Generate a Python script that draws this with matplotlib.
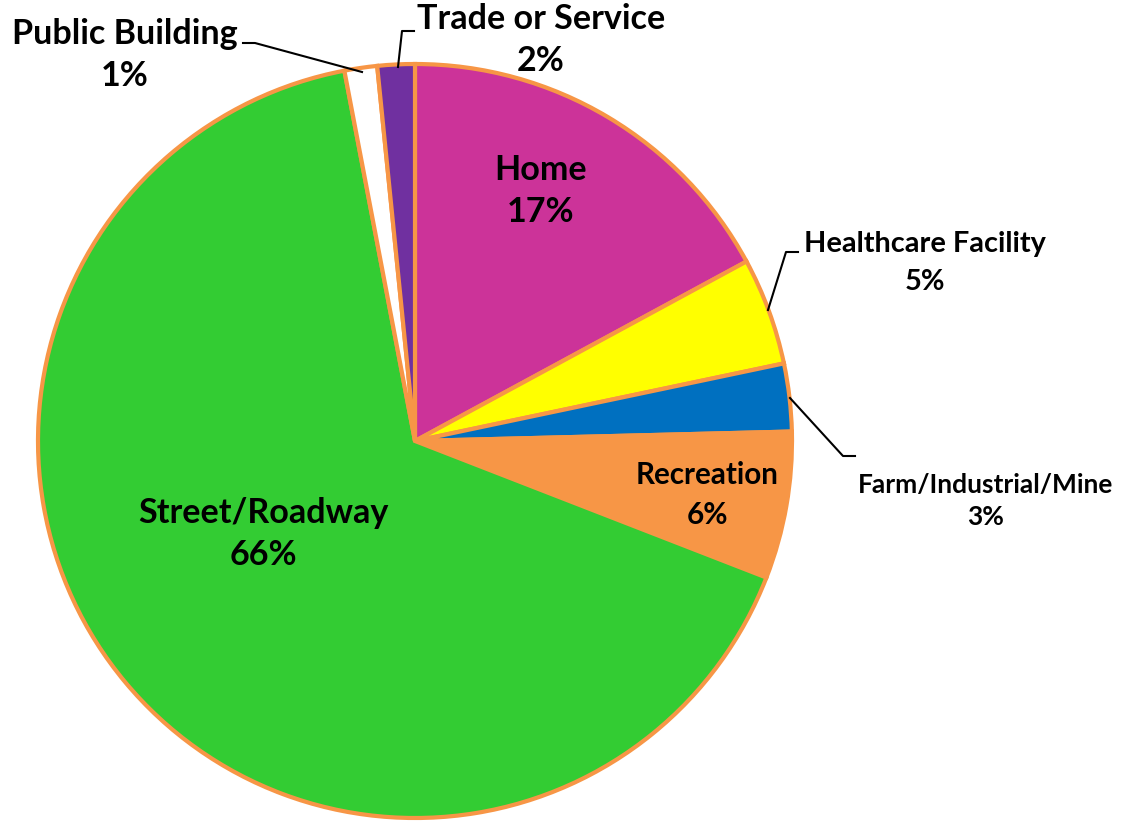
import matplotlib
matplotlib.use("Agg")
import matplotlib.pyplot as plt

# data (clockwise from 12 o'clock)
categories = ["Home", "Healthcare Facility", "Farm/Industrial/Mine", "Recreation",
              "Street/Roadway", "Public Building", "Trade or Service"]
values = [17.1, 4.6, 2.9, 6.3, 66.1, 1.4, 1.6]
colors = ["#CC3399", "#FFFF00", "#0070C0", "#F79646", "#33CC33", "#FFFFFF", "#7030A0"]

W, H = 1133, 822
CX, CY, R = 415, 441, 377   # pie centre / radius in pixels (y from top)

plt.rcParams["font.family"] = ["Lato", "DejaVu Sans"]

fig = plt.figure(figsize=(W / 100, H / 100), dpi=100)
ax = fig.add_axes([0, 0, 1, 1])

wedges, _ = ax.pie(values, colors=colors, startangle=90, counterclock=False,
                   center=(CX, H - CY), radius=R, frame=True,
                   wedgeprops=dict(edgecolor="#F79646", linewidth=3))
ax.set_xlim(0, W)
ax.set_ylim(0, H)
ax.set_aspect("equal")
ax.axis("off")

# label positions (pixels, y from top), font size, line spacing
label_pos = {
    "Home": (541, 191, 24.6, 1.39),
    "Healthcare Facility": (925, 263, 20.8, 1.53),
    "Farm/Industrial/Mine": (986, 501, 19, 1.43),
    "Recreation": (707, 495, 21.3, 1.52),
    "Street/Roadway": (263, 534, 24.6, 1.39),
    "Public Building": (125, 55, 24.6, 1.39),
    "Trade or Service": (541, 40, 24.6, 1.39),
}

for cat, v in zip(categories, values):
    x, y, fs, ls = label_pos[cat]
    ax.text(x, H - y, f"{cat}\n{round(v):.0f}%", ha="center", va="center",
            fontsize=fs, fontweight="bold", color="black", linespacing=ls)

# leader lines (pixels, y from top)
leaders = [
    [(243, 43), (255, 43), (362, 72)],
    [(414, 31), (402, 31), (398, 67)],
    [(798, 252), (786, 252), (768, 310)],
    [(790, 398), (843, 456), (855, 456)],
]
for pts in leaders:
    xs = [p[0] for p in pts]
    ys = [H - p[1] for p in pts]
    ax.plot(xs, ys, color="black", lw=1.5, zorder=5)

fig.savefig("out.png", dpi=100)
